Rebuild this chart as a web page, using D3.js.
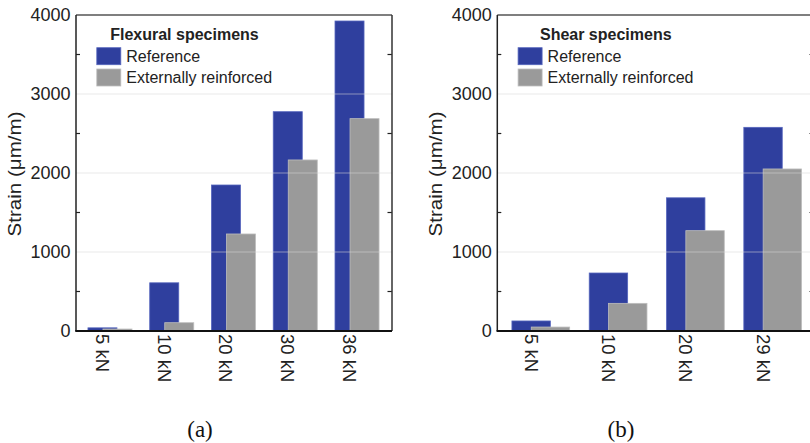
<!DOCTYPE html>
<html><head><meta charset="utf-8">
<script src="https://cdn.jsdelivr.net/npm/d3@7"></script>
<style>
html,body{margin:0;padding:0;background:#fff;}
svg{display:block;font-family:"Liberation Sans",Arial,sans-serif;}
</style></head>
<body><svg id="c" width="810" height="443"></svg>
<script>
const categoriesA = ["5 kN","10 kN","20 kN","30 kN","36 kN"];
const referenceA  = [40, 610, 1848, 2776, 3924];
const reinforcedA = [25, 105, 1228, 2165, 2688];
const categoriesB = ["5 kN","10 kN","20 kN","29 kN"];
const referenceB  = [127, 734, 1686, 2578];
const reinforcedB = [50, 350, 1270, 2051];
const yTicks = [0, 1000, 2000, 3000, 4000];
const minorTicks = [500, 1500, 2500, 3500];
const seriesNames = ["Reference", "Externally reinforced"];
const titles = ["Flexural specimens", "Shear specimens"];
const captions = ["(a)", "(b)"];

const colors = {blue:"#2f3f9e", blueStroke:"#5565bd", gray:"#9a9a9a", grayStroke:"#bdbdbd"};
const svg = d3.select("#c");
const y = d3.scaleLinear().domain([0, 4000]).range([331, 15]);

const panels = [
  {cats:categoriesA, ref:referenceA, ext:reinforcedA, left:76, right:392, b0:79.1, b1:387.9, bw:0.47, off:0.243, title:titles[0], cap:captions[0], capX:200},
  {cats:categoriesB, ref:referenceB, ext:reinforcedB, left:497.3, right:814, b0:502.15, b1:811.35, bw:0.497, off:0.25, title:titles[1], cap:captions[1], capX:621}
];

panels.forEach(p => {
  const g = svg.append("g");
  const x = d3.scaleBand().domain(p.cats).range([p.b0, p.b1]);
  const step = x.step();
  const bw = step * p.bw, off = step * p.off;
  const bx = c => x(c) + (step - (bw + off)) / 2;

  // bars
  g.selectAll(".ref").data(p.cats).join("rect")
    .attr("x", c => bx(c)).attr("width", bw)
    .attr("y", (c,i) => y(p.ref[i])).attr("height", (c,i) => y(0) - y(p.ref[i]))
    .attr("fill", colors.blue).attr("stroke", colors.blueStroke).attr("stroke-width", 0.8);
  g.selectAll(".ext").data(p.cats).join("rect")
    .attr("x", c => bx(c) + off).attr("width", bw)
    .attr("y", (c,i) => y(p.ext[i])).attr("height", (c,i) => y(0) - y(p.ext[i]))
    .attr("fill", colors.gray).attr("stroke", colors.grayStroke).attr("stroke-width", 0.8);

  // gridlines
  g.selectAll(".grid").data(yTicks.filter(t => t > 0 && t < 4000)).join("line")
    .attr("x1", p.left).attr("x2", p.right)
    .attr("y1", d => y(d)).attr("y2", d => y(d))
    .attr("stroke", "#d8d8d8").attr("stroke-opacity", 0.55).attr("stroke-width", 1);

  // minor ticks (inside, both sides)
  g.selectAll(".mtl").data(minorTicks).join("line")
    .attr("x1", p.left).attr("x2", p.left + 4)
    .attr("y1", d => y(d)).attr("y2", d => y(d))
    .attr("stroke", "#222").attr("stroke-width", 1.2);
  g.selectAll(".mtr").data(minorTicks).join("line")
    .attr("x1", p.right - 4.5).attr("x2", p.right)
    .attr("y1", d => y(d)).attr("y2", d => y(d))
    .attr("stroke", "#222").attr("stroke-width", 1.2);

  // frame
  g.append("line").attr("x1", p.left).attr("x2", p.right).attr("y1", y(4000)).attr("y2", y(4000))
    .attr("stroke", "#555").attr("stroke-width", 1.5);
  g.append("line").attr("x1", p.right).attr("x2", p.right).attr("y1", y(4000)).attr("y2", y(0))
    .attr("stroke", "#333").attr("stroke-width", 1.5);
  g.append("line").attr("x1", p.left).attr("x2", p.left).attr("y1", y(4000)).attr("y2", y(0))
    .attr("stroke", "#222").attr("stroke-width", 1.5);
  g.append("line").attr("x1", p.left - 0.75).attr("x2", p.right).attr("y1", y(0)).attr("y2", y(0))
    .attr("stroke", "#111").attr("stroke-width", 2);

  // y axis labels
  const ax = g.append("g").attr("transform", `translate(${p.left},0)`)
    .call(d3.axisLeft(y).tickValues(yTicks).tickSize(0).tickPadding(5.5).tickFormat(d3.format("d")));
  ax.select(".domain").remove();
  ax.selectAll("text").attr("font-size", 18).attr("fill", "#222")
    .attr("font-family", "Liberation Sans, Arial, sans-serif");

  // y title
  g.append("text").attr("transform", `translate(${p.left - 61},174) rotate(-90)`)
    .attr("text-anchor", "middle").attr("dominant-baseline", "central")
    .attr("font-size", 18).attr("fill", "#222")
    .attr("textLength", 125).attr("lengthAdjust", "spacingAndGlyphs")
    .text("Strain (\u03bcm/m)");

  // category labels
  g.selectAll(".cat").data(p.cats).join("text")
    .attr("transform", c => `translate(${bx(c) + bw/2},334) rotate(90)`)
    .attr("text-anchor", "start").attr("dominant-baseline", "central")
    .attr("font-size", 18.5).attr("fill", "#222")
    .text(c => c);

  // legend
  const sx = p.left + 20.8;
  const lg = g.append("g");
  lg.append("rect").attr("x", sx).attr("y", 47.7).attr("width", 24).attr("height", 17)
    .attr("fill", colors.blue).attr("stroke", colors.blueStroke).attr("stroke-width", 0.8);
  lg.append("rect").attr("x", sx).attr("y", 69).attr("width", 24).attr("height", 17)
    .attr("fill", colors.gray).attr("stroke", colors.grayStroke).attr("stroke-width", 0.8);
  const t1 = lg.append("text").attr("x", sx + 29.5).attr("y", 62).attr("font-size", 16).attr("fill", "#222").text(seriesNames[0]);
  const t2 = lg.append("text").attr("x", sx + 29.5).attr("y", 83).attr("font-size", 16).attr("fill", "#222").text(seriesNames[1]);
  const end = sx + 29.5 + Math.max(t1.node().getComputedTextLength(), t2.node().getComputedTextLength());
  lg.append("text").attr("x", (sx + end) / 2).attr("y", 40).attr("text-anchor", "middle")
    .attr("font-size", 16).attr("font-weight", "bold").attr("fill", "#222").text(p.title);

  // caption
  svg.append("text").attr("x", p.capX).attr("y", 437).attr("text-anchor", "middle")
    .attr("font-family", "Liberation Serif, Times New Roman, serif")
    .attr("font-size", 23).attr("fill", "#111").text(p.cap);
});
</script></body></html>
